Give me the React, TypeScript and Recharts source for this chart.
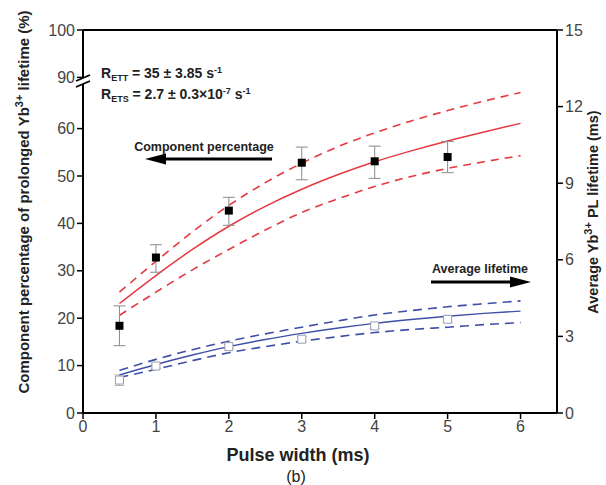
import React from "react";
import {
  ComposedChart,
  Line,
  Scatter,
  ErrorBar,
  XAxis,
  YAxis,
  ReferenceLine,
} from "recharts";

// ---- data ----
const pulseWidth = [0.5, 1, 2, 3, 4, 5];
// component percentage (%), left axis
const compPct = [18.4, 32.8, 42.7, 52.8, 53.1, 54.0];
const compLow = [14.2, 29.7, 39.6, 49.2, 49.5, 50.7];
const compHigh = [22.6, 35.5, 45.5, 56.1, 56.3, 57.3];
// average lifetime (ms), right axis
const lifetime = [1.29, 1.84, 2.6, 2.89, 3.41, 3.67];
const lifeLow = [1.08, 1.74, 2.52, 2.79, 3.31, 3.55];
const lifeHigh = [1.49, 1.94, 2.68, 2.99, 3.51, 3.79];

// fitted curves
const fitX = [0.5, 1, 1.5, 2, 2.5, 3, 3.5, 4, 4.5, 5, 5.5, 6];
const compFit = [23.1, 29.0, 34.5, 39.4, 43.6, 47.2, 50.3, 53.0, 55.3, 57.4, 59.3, 61.1];
const compFitUp = [25.5, 32.0, 38.2, 43.8, 48.6, 52.7, 56.2, 59.1, 61.6, 63.8, 65.8, 67.6];
const compFitLow = [20.6, 25.5, 30.2, 34.5, 38.6, 42.3, 45.2, 47.8, 49.9, 51.6, 53.0, 54.3];
const lifeFit = [1.49, 1.9, 2.27, 2.6, 2.88, 3.12, 3.33, 3.51, 3.66, 3.79, 3.9, 3.99];
const lifeFitUp = [1.67, 2.1, 2.48, 2.81, 3.1, 3.36, 3.61, 3.84, 4.01, 4.16, 4.28, 4.39];
const lifeFitLow = [1.39, 1.71, 2.05, 2.36, 2.6, 2.81, 2.99, 3.15, 3.27, 3.36, 3.46, 3.54];

const xTicks = [0, 1, 2, 3, 4, 5, 6];
const leftTicks = [0, 10, 20, 30, 40, 50, 60, 90, 100];
const rightTicks = [0, 3, 6, 9, 12, 15];

// the left axis is broken between 60 and 90
const BREAK_SHIFT = 19.2;
const toLeft = (v: number) => (v > 60 ? v - BREAK_SHIFT : v);
const fromLeft = (v: number) => (v > 60 ? Math.round(v + BREAK_SHIFT) : v);

const RED = "#e53a40";
const BLUE = "#3f4fa8";
const FONT = "'Liberation Sans', Arial, sans-serif";

const curve = (ys: number[]) => fitX.map((x, i) => ({ x, y: ys[i] }));
const points = (ys: number[], lo: number[], hi: number[]) =>
  pulseWidth.map((x, i) => ({ x, y: ys[i], err: [ys[i] - lo[i], hi[i] - ys[i]] }));

const compPoints = points(compPct, compLow, compHigh);
const lifePoints = points(lifetime, lifeLow, lifeHigh);

const axisLine = { stroke: "#000", strokeWidth: 2 };
const tickLine = { stroke: "#000", strokeWidth: 1.5 };
const tick = { fontSize: 16, fill: "#444", fontFamily: FONT };

export default function App() {
  return (
    <div style={{ position: "absolute", left: 0, top: 0, width: 606, height: 485, background: "#fff" }}>
      <ComposedChart width={606} height={485} margin={{ top: 30, right: 19, bottom: 42, left: 33 }}>
        <XAxis
          type="number"
          dataKey="x"
          domain={[0, 6.5]}
          ticks={xTicks}
          height={30}
          axisLine={axisLine}
          tickLine={tickLine}
          tickSize={6}
          tick={tick}
          allowDataOverflow
        />
        <YAxis
          yAxisId="left"
          type="number"
          domain={[0, toLeft(100)]}
          ticks={leftTicks.map(toLeft)}
          tickFormatter={fromLeft}
          width={50}
          axisLine={axisLine}
          tickLine={tickLine}
          tickSize={6}
          tick={tick}
          allowDataOverflow
        />
        <YAxis
          yAxisId="right"
          orientation="right"
          type="number"
          domain={[0, 15]}
          ticks={rightTicks}
          width={30}
          axisLine={axisLine}
          tickLine={tickLine}
          tickSize={6}
          tick={tick}
          allowDataOverflow
        />
        <ReferenceLine yAxisId="left" y={toLeft(100)} stroke="#000" strokeWidth={2} />

        <Scatter yAxisId="right" data={lifePoints} dataKey="y" shape="square" size={22}
          fill="#fff" stroke="#9a9db0" strokeWidth={1} isAnimationActive={false}>
          <ErrorBar dataKey="err" direction="y" width={5} stroke="#b0b0b8" strokeWidth={1} />
        </Scatter>

        <Line yAxisId="right" data={curve(lifeFitUp)} dataKey="y" type="monotone" stroke={BLUE}
          strokeWidth={1.6} strokeDasharray="9 6" dot={false} isAnimationActive={false} />
        <Line yAxisId="right" data={curve(lifeFitLow)} dataKey="y" type="monotone" stroke={BLUE}
          strokeWidth={1.6} strokeDasharray="9 6" dot={false} isAnimationActive={false} />
        <Line yAxisId="right" data={curve(lifeFit)} dataKey="y" type="monotone" stroke={BLUE}
          strokeWidth={1.4} dot={false} isAnimationActive={false} />

        <Line yAxisId="left" data={curve(compFitUp)} dataKey="y" type="monotone" stroke={RED}
          strokeWidth={1.6} strokeDasharray="8 6" dot={false} isAnimationActive={false} />
        <Line yAxisId="left" data={curve(compFitLow)} dataKey="y" type="monotone" stroke={RED}
          strokeWidth={1.6} strokeDasharray="8 6" dot={false} isAnimationActive={false} />
        <Line yAxisId="left" data={curve(compFit)} dataKey="y" type="monotone" stroke={RED}
          strokeWidth={1.5} dot={false} isAnimationActive={false} />

        <Scatter yAxisId="left" data={compPoints} dataKey="y" shape="square" size={45}
          fill="#000" isAnimationActive={false}>
          <ErrorBar dataKey="err" direction="y" width={6} stroke="#8a8a8a" strokeWidth={1} />
        </Scatter>
      </ComposedChart>

      <svg width={606} height={485} style={{ position: "absolute", left: 0, top: 0, pointerEvents: "none" }}
        fontFamily={FONT}>
        {/* axis break */}
        <polygon points="76,81 90,75 90,81 76,87" fill="#fff" />
        <line x1={76} y1={81} x2={90} y2={75} stroke="#000" strokeWidth={1.8} />
        <line x1={76} y1={87} x2={90} y2={81} stroke="#000" strokeWidth={1.8} />

        <text x={101} y={78} fontSize={14} fontWeight="bold" fill="#222">
          R<tspan fontSize={9} dy={3}>ETT</tspan>
          <tspan dy={-3}> = 35 ± 3.85 s</tspan>
          <tspan fontSize={9} dy={-5}>-1</tspan>
        </text>
        <text x={101} y={99} fontSize={14} fontWeight="bold" fill="#222">
          R<tspan fontSize={9} dy={3}>ETS</tspan>
          <tspan dy={-3}> = 2.7 ± 0.3×10</tspan>
          <tspan fontSize={9} dy={-5}>-7</tspan>
          <tspan dy={5}> s</tspan>
          <tspan fontSize={9} dy={-5}>-1</tspan>
        </text>

        <text x={204} y={151} fontSize={12.5} fontWeight="bold" fill="#222" textAnchor="middle">
          Component percentage
        </text>
        <line x1={272} y1={159} x2={160} y2={159} stroke="#000" strokeWidth={3} />
        <polygon points="145,159 166,153.5 166,164.5" fill="#000" />

        <text x={480} y={272.5} fontSize={12.5} fontWeight="bold" fill="#222" textAnchor="middle">
          Average lifetime
        </text>
        <line x1={431} y1={282} x2={515} y2={282} stroke="#000" strokeWidth={3} />
        <polygon points="531,282 510,276.5 510,287.5" fill="#000" />

        <text transform="translate(29,202) rotate(-90)" fontSize={15} fontWeight="bold"
          fill="#222" textAnchor="middle">
          Component percentage of prolonged Yb<tspan fontSize={11} dy={-6}>3+</tspan>
          <tspan dy={6}> lifetime (%)</tspan>
        </text>
        <text transform="translate(598,212) rotate(-90)" fontSize={14.5} fontWeight="bold"
          fill="#222" textAnchor="middle">
          Average Yb<tspan fontSize={11} dy={-6}>3+</tspan>
          <tspan dy={6}> PL lifetime (ms)</tspan>
        </text>

        <text x={298} y={461} fontSize={18} fontWeight="bold" fill="#222" textAnchor="middle">
          Pulse width (ms)
        </text>
        <text x={296} y={482} fontSize={16} fill="#222" textAnchor="middle">
          (b)
        </text>
      </svg>
    </div>
  );
}
